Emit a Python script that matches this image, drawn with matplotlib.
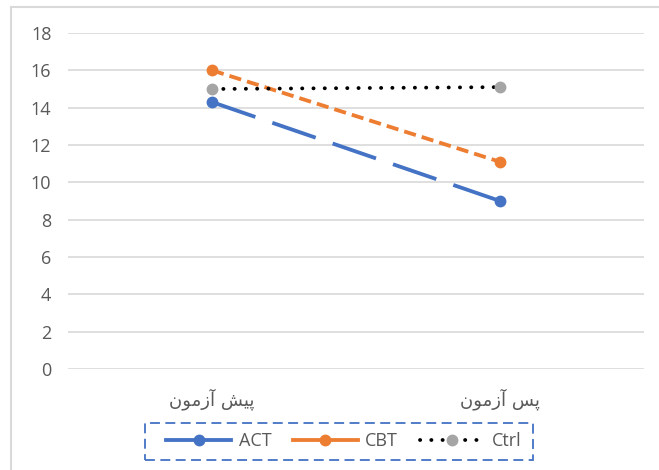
import matplotlib
matplotlib.use("Agg")
import matplotlib.pyplot as plt
from matplotlib.lines import Line2D
from matplotlib.patches import Rectangle

# ---- data ----
categories = ["پیش آزمون", "پس آزمون"]
series_names = ["ACT", "CBT", "Ctrl"]
act_values = [14.3, 9.0]
cbt_values = [16.0, 11.1]
ctrl_values = [15.0, 15.1]
y_ticks = [0, 2, 4, 6, 8, 10, 12, 14, 16, 18]

# ---- minimal Persian shaping (matplotlib has no complex text layout) ----
FORMS = {
    "\u067E": ("\uFB56", "\uFB57", "\uFB58", "\uFB59", True),   # peh
    "\u06CC": ("\uFBFC", "\uFBFD", "\uFBFE", "\uFBFF", True),   # farsi yeh
    "\u0634": ("\uFEB5", "\uFEB6", "\uFEB7", "\uFEB8", True),   # sheen
    "\u0633": ("\uFEB1", "\uFEB2", "\uFEB3", "\uFEB4", True),   # seen
    "\u0645": ("\uFEE1", "\uFEE2", "\uFEE3", "\uFEE4", True),   # meem
    "\u0646": ("\uFEE5", "\uFEE6", "\uFEE7", "\uFEE8", True),   # noon
    "\u0622": ("\uFE81", "\uFE82", None, None, False),          # alef madda
    "\u0632": ("\uFEAF", "\uFEB0", None, None, False),          # zain
    "\u0648": ("\uFEED", "\uFEEE", None, None, False),          # waw
}


def shape(text):
    out = []
    n = len(text)
    for i, ch in enumerate(text):
        if ch not in FORMS:
            out.append(ch)
            continue
        iso, fin, ini, med, dual = FORMS[ch]
        prev = text[i - 1] if i > 0 else None
        nxt = text[i + 1] if i < n - 1 else None
        jp = prev in FORMS and FORMS[prev][4]
        jn = dual and nxt in FORMS
        if jp and jn:
            out.append(med)
        elif jp:
            out.append(fin)
        elif jn:
            out.append(ini)
        else:
            out.append(iso)
    return "".join(reversed(out))


plt.rcParams['font.family'] = ['Open Sans', 'DejaVu Sans']

W, H = 659, 470
fig = plt.figure(figsize=(W / 100, H / 100), dpi=100)
ax = fig.add_axes([68 / W, 1 - 369 / H, (644 - 68) / W, (369 - 33) / H])

# outer chart border
fig.patches.append(Rectangle((11 / W, -0.1), 1.2, 1 - 7 / H + 0.1,
                             transform=fig.transFigure, fill=False,
                             edgecolor="#d9d9d9", lw=1.5, zorder=0))
# legend box (dashed blue)
fig.patches.append(Rectangle((145 / W, 1 - 460 / H), (533 - 145) / W,
                             (460 - 423) / H, transform=fig.transFigure,
                             fill=False, edgecolor="#4472C4", lw=1.3,
                             linestyle=(0, (5.5, 3)), zorder=1))

x = [0, 1]
lw = 2.75
ax.plot(x, act_values, color="#4472C4", lw=lw, linestyle=(0, (12, 4.7)),
        marker="o", markersize=7.5, zorder=3, solid_capstyle="butt")
ax.plot(x, cbt_values, color="#ED7D31", lw=lw, linestyle=(0, (3.2, 1.6)),
        marker="o", markersize=7.5, zorder=3)
ax.plot(x, ctrl_values, color="black", lw=lw, linestyle=(0, (0.05, 2.9)),
        dash_capstyle="round", marker="o", markersize=7.5,
        markerfacecolor="#A5A5A5", markeredgecolor="#A5A5A5", zorder=3)

ax.set_xlim(-0.5, 1.5)
ax.set_ylim(0, 18)
ax.set_yticks(y_ticks)
ax.set_xticks(x)
ax.set_xticklabels([shape(c) for c in categories], fontsize=11,
                   family=['DejaVu Sans'])
ax.tick_params(axis="both", length=0, colors="#595959", labelsize=13)
ax.tick_params(axis="y", pad=12)
ax.tick_params(axis="x", pad=14)
ax.grid(axis="y", color="#d9d9d9", lw=1.2)
ax.set_axisbelow(True)
for s in ax.spines.values():
    s.set_visible(False)

handles = [
    Line2D([], [], color="#4472C4", lw=lw, marker="o", markersize=7.5),
    Line2D([], [], color="#ED7D31", lw=lw, marker="o", markersize=7.5),
    Line2D([], [], color="black", lw=lw, linestyle=(0, (0.05, 2.9)),
           dash_capstyle="round", marker="o", markersize=7.5,
           markerfacecolor="#A5A5A5", markeredgecolor="#A5A5A5"),
]
leg = fig.legend(handles, series_names, loc="center",
                 bbox_to_anchor=(344 / W, 1 - 441.5 / H), ncol=3,
                 frameon=False, fontsize=13,
                 handlelength=3.6, handletextpad=0.4, columnspacing=1.2,
                 borderpad=0.3, labelcolor="#595959")

fig.savefig("out.png", dpi=100)
